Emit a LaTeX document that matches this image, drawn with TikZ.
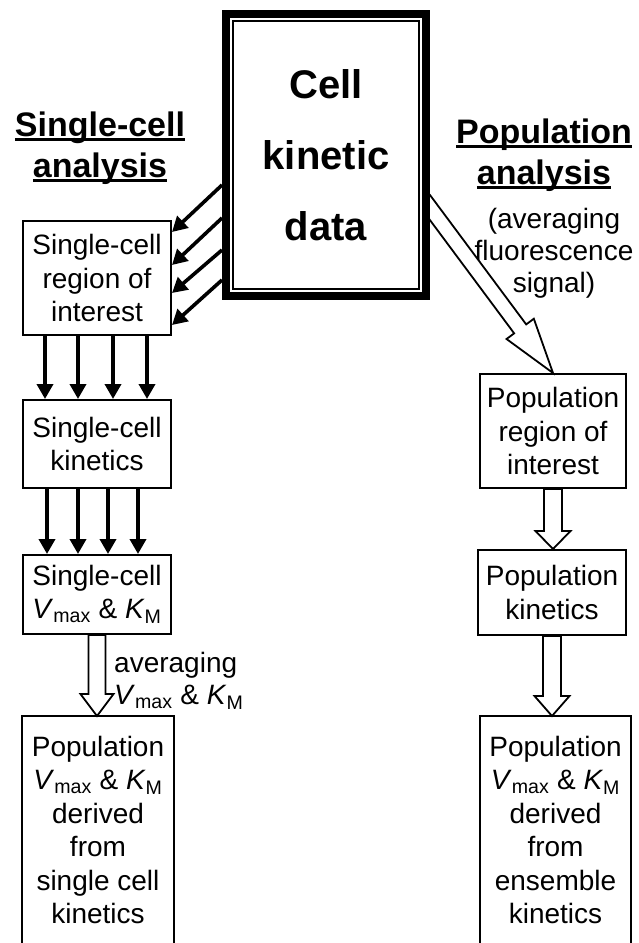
\documentclass[tikz,border=0pt]{standalone}
\usepackage{fontspec}
\setmainfont{Liberation Sans}
\usetikzlibrary{arrows.meta,calc,backgrounds}
\newcommand\bodyfont{\fontsize{28}{33.5}\selectfont}
\newcommand\headfont{\fontsize{34}{41}\selectfont\bfseries}
\newcommand\bigfont{\fontsize{40}{71}\selectfont\bfseries}
\newcommand\VK{\textit{V}\textsubscript{max} \& \textit{K}\textsubscript{M}}
\newcommand\ulhead[1]{\leavevmode\setbox0\hbox{#1}\rlap{\rule[-4.5pt]{\wd0}{3pt}}\box0}
\newcommand\hollowarrow[5]{%
  \coordinate (ha-s) at (#1);
  \coordinate (ha-t) at (#2);
  \coordinate (ha-b) at ($(ha-t)!#5!(ha-s)$);
  \draw[hollowst] ($(ha-s)!#3!90:(ha-t)$) -- ($(ha-b)!#3!90:(ha-t)$)
    -- ($(ha-b)!#4!90:(ha-t)$) -- (ha-t) -- ($(ha-b)!#4!-90:(ha-t)$)
    -- ($(ha-b)!#3!-90:(ha-t)$) -- ($(ha-s)!#3!-90:(ha-t)$) -- cycle;
}
\tikzset{
  box/.style={draw, line width=2pt, inner sep=0pt, align=center, font=\bodyfont},
  txt/.style={inner sep=0pt, align=center, font=\bodyfont},
  thinarr/.style={line width=3.6pt, -{Triangle[length=15pt,width=16pt]}},
  hollowst/.style={draw, line width=1.8pt, fill=white, line join=miter},
}
\begin{document}
\begin{tikzpicture}[x=1pt,y=-1pt]
\useasboundingbox (0,0) rectangle (639,943);

% central box
\node[draw, line width=8pt, outer sep=4pt, fill=white, minimum width=200pt,
      minimum height=282pt, inner sep=0pt, align=center, font=\bigfont]
      (cb) at (326,155) {Cell\\kinetic\\data};
\draw[line width=1.5pt] ([shift={(11pt,-11pt)}]cb.north west) rectangle ([shift={(-11pt,11pt)}]cb.south east);

% headings
\node[txt, font=\headfont] (lh) at (100,148.5) {\ulhead{Single-cell}\\\ulhead{analysis}};
\node[txt, font=\headfont] (rh) at (544,155.5) {\ulhead{Population}\\\ulhead{analysis}};
\node[txt, font=\fontsize{28}{32}\selectfont] (rn) at (554,253) {(averaging\\fluorescence\\signal)};

% left column
\node[box, minimum width=148pt, minimum height=114pt] (b1) at (97,278) {Single-cell\\region of\\interest};
\node[box, minimum width=148pt, minimum height=88pt] (b2) at (97,444) {Single-cell\\kinetics};
\node[box, minimum width=148pt, minimum height=79pt] (b3) at (97,594.5) {Single-cell\\\VK};
\node[box, draw=none, minimum width=150pt, minimum height=226pt] (b4) at (98,830)
  {Population\\\VK\\derived\\from\\single cell\\kinetics};
\draw[line width=2pt] (b4.south west) |- (b4.north east) -- (b4.south east);

% right column
\node[box, minimum width=146pt, minimum height=114pt] (r1) at (553,431) {Population\\region of\\interest};
\node[box, minimum width=148pt, minimum height=85pt] (r2) at (552,592.5) {Population\\kinetics};
\node[box, draw=none, minimum width=149pt, minimum height=226pt] (r3) at (555.5,830)
  {Population\\\VK\\derived\\from\\ensemble\\kinetics};
\draw[line width=2pt] (r3.south west) |- (r3.north east) -- (r3.south east);

\node[txt, align=left, anchor=west, font=\fontsize{28}{32}\selectfont] (avg) at (114,681) {averaging\\\VK};

% thin arrows
\foreach \a/\b in {-30/46,-63/13,-95/-15,-125/-47}
  \draw[thinarr] ([yshift=\a pt]cb.west) -- ([yshift=\b pt]b1.east);
\foreach \d in {-52,-19,16,50}
  \draw[thinarr] ([xshift=\d pt]b1.south) -- ([xshift=\d pt]b2.north);
\foreach \d in {-50,-19,11,41}
  \draw[thinarr] ([xshift=\d pt]b2.south) -- ([xshift=\d pt]b3.north);

% hollow arrows
\begin{scope}[on background layer]
\fill[white] (0,0) rectangle (639,943);
\hollowarrow{[xshift=-6pt,yshift=-44.5pt]cb.east}{r1.north}{7.5pt}{17pt}{55pt}
\end{scope}
\hollowarrow{b3.south}{b3.south |- b4.north}{8.5pt}{16.5pt}{22pt}
\hollowarrow{r1.south}{r1.south |- r2.north}{9pt}{17.5pt}{18pt}
\hollowarrow{r2.south}{r2.south |- r3.north}{9pt}{17.5pt}{20pt}
\end{tikzpicture}
\end{document}
